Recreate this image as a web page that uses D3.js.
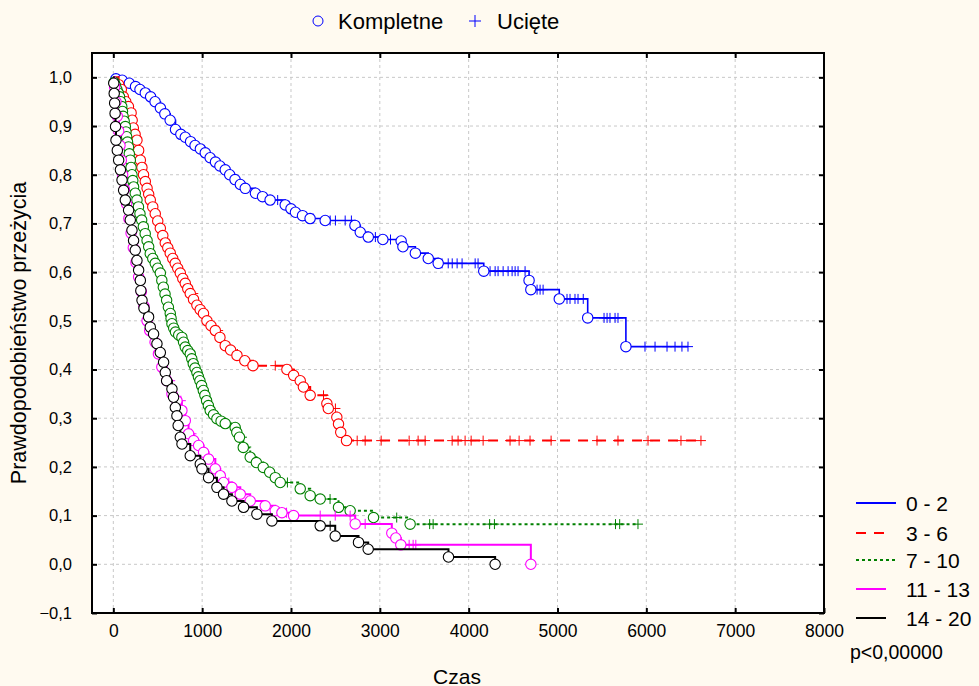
<!DOCTYPE html>
<html>
<head>
<meta charset="utf-8">
<script src="https://cdn.jsdelivr.net/npm/d3@7"></script>
<style>
  html, body { margin: 0; padding: 0; background: #FFFAF0; }
  svg { display: block; font-family: "Liberation Sans", Arial, sans-serif; }
</style>
</head>
<body>
<svg id="chart" width="979" height="686"></svg>
<script>
// Axis ticks
const xTicks = [0, 1000, 2000, 3000, 4000, 5000, 6000, 7000, 8000];
const yTicks = [-0.1, 0.0, 0.1, 0.2, 0.3, 0.4, 0.5, 0.6, 0.7, 0.8, 0.9, 1.0];

// Groups
const groupLabels = ["0 - 2", "3 - 6", "7 - 10", "11 - 13", "14 - 20"];
const groupColors = ["#0000FF", "#FF0000", "#008000", "#FF00FF", "#000000"];
const groupDash = [null, "10,8", "3,3", null, null];
const groupWidth = [1.6, 2, 2, 2, 2];

// Group 0 - 2: event times, survival after each event, censored times
const evT02 = [30, 100, 180, 250, 300, 360, 420, 470, 530, 580, 640, 700, 760, 810, 870, 920, 980, 1035, 1090, 1150, 1200, 1260, 1310, 1370, 1430, 1485, 1600, 1680, 1765, 1935, 2000, 2050, 2130, 2215, 2385, 2720, 2780, 2870, 3034, 3240, 3260, 3400, 3545, 3657, 4170, 4680, 4700, 5020, 5340, 5770];
const evS02 = [0.997, 0.994, 0.988, 0.981, 0.975, 0.968, 0.96, 0.95, 0.937, 0.925, 0.912, 0.893, 0.883, 0.877, 0.868, 0.86, 0.853, 0.845, 0.835, 0.826, 0.818, 0.81, 0.80, 0.79, 0.78, 0.772, 0.762, 0.755, 0.748, 0.738, 0.73, 0.723, 0.716, 0.71, 0.706, 0.696, 0.682, 0.672, 0.667, 0.664, 0.652, 0.639, 0.628, 0.618, 0.602, 0.583, 0.564, 0.545, 0.506, 0.447];
const cens02 = [1850, 2250, 2441, 2500, 2610, 2680, 2950, 3120, 3700, 3770, 3815, 3870, 3926, 4073, 4106, 4241, 4298, 4331, 4388, 4444, 4489, 4523, 4556, 4635, 4770, 4804, 4838, 5107, 5141, 5197, 5231, 5290, 5524, 5558, 5591, 5648, 5681, 5985, 6098, 6233, 6323, 6401, 6469];

// Group 3 - 6
const evT36 = [60, 90, 113, 140, 170, 200, 212, 225, 245, 266, 285, 304, 322, 340, 360, 380, 398, 416, 444, 472, 500, 529, 557, 585, 613, 641, 669, 697, 725, 754, 782, 810, 838, 866, 903, 941, 978, 1015, 1054, 1100, 1148, 1200, 1260, 1320, 1392, 1480, 1572, 1954, 2030, 2104, 2140, 2216, 2404, 2420, 2516, 2535, 2560, 2625];
const evS36 = [0.985, 0.975, 0.96, 0.95, 0.94, 0.927, 0.912, 0.896, 0.883, 0.871, 0.85, 0.83, 0.815, 0.80, 0.786, 0.772, 0.76, 0.748, 0.734, 0.72, 0.705, 0.69, 0.675, 0.66, 0.65, 0.639, 0.628, 0.618, 0.608, 0.598, 0.587, 0.577, 0.566, 0.556, 0.544, 0.532, 0.523, 0.515, 0.50, 0.49, 0.48, 0.466, 0.449, 0.44, 0.429, 0.418, 0.408, 0.40, 0.388, 0.377, 0.364, 0.347, 0.33, 0.32, 0.302, 0.288, 0.271, 0.254];
const cens36 = [620, 900, 1180, 1504, 1823, 1990, 2366, 2500, 2745, 2835, 3015, 3330, 3431, 3510, 3814, 3881, 3960, 4028, 4163, 4466, 4568, 4691, 4928, 5445, 5681, 6019, 6390, 6615];

// Group 7 - 10
const evT710 = [10, 25, 40, 55, 70, 82, 95, 103, 110, 122, 135, 142, 150, 160, 170, 180, 191, 200, 210, 219, 228, 247, 266, 283, 300, 319, 338, 359, 380, 398, 416, 444, 472, 500, 529, 546, 563, 582, 600, 620, 641, 650, 660, 680, 700, 736, 772, 791, 810, 838, 866, 883, 900, 920, 941, 958, 975, 994, 1013, 1031, 1050, 1070, 1091, 1128, 1166, 1213, 1260, 1372, 1390, 1420, 1463, 1541, 1610, 1688, 1760, 1823, 1879, 2104, 2216, 2329, 2535, 2666, 2929, 3341];
const evS710 = [0.99, 0.983, 0.975, 0.968, 0.96, 0.95, 0.94, 0.93, 0.92, 0.91, 0.899, 0.888, 0.878, 0.867, 0.857, 0.843, 0.83, 0.815, 0.80, 0.788, 0.775, 0.762, 0.748, 0.734, 0.72, 0.707, 0.693, 0.679, 0.665, 0.652, 0.638, 0.628, 0.618, 0.608, 0.598, 0.583, 0.569, 0.555, 0.542, 0.528, 0.515, 0.505, 0.494, 0.485, 0.477, 0.471, 0.466, 0.456, 0.446, 0.439, 0.432, 0.422, 0.412, 0.403, 0.394, 0.385, 0.377, 0.367, 0.357, 0.347, 0.336, 0.326, 0.316, 0.307, 0.299, 0.294, 0.289, 0.281, 0.271, 0.261, 0.24, 0.22, 0.209, 0.199, 0.189, 0.178, 0.168, 0.155, 0.141, 0.134, 0.117, 0.11, 0.096, 0.0825];
const cens710 = [450, 700, 950, 1200, 1448, 1960, 2440, 3190, 3561, 3600, 4236, 4290, 5653, 5700, 5906];

// Group 11 - 13
const evT1113 = [15, 30, 45, 60, 75, 90, 105, 125, 150, 175, 200, 225, 255, 285, 315, 345, 380, 410, 470, 508, 546, 602, 660, 716, 772, 810, 847, 904, 960, 1016, 1072, 1148, 1204, 1241, 1335, 1429, 1541, 1710, 1823, 1898, 2029, 2723, 3135, 3180, 3236, 4700];
const evS1113 = [0.98, 0.95, 0.92, 0.89, 0.86, 0.83, 0.80, 0.77, 0.74, 0.71, 0.68, 0.65, 0.62, 0.59, 0.56, 0.53, 0.50, 0.48, 0.456, 0.432, 0.405, 0.377, 0.35, 0.336, 0.316, 0.295, 0.268, 0.254, 0.244, 0.23, 0.216, 0.196, 0.182, 0.168, 0.158, 0.144, 0.13, 0.12, 0.11, 0.106, 0.10, 0.083, 0.064, 0.054, 0.04, 0.0];
const cens1113 = [420, 520, 640, 760, 880, 1100, 1300, 1950, 2329, 2498, 2666, 2835, 3330, 3375, 3405];

// Group 14 - 20
const evT1420 = [5, 10, 15, 20, 25, 30, 45, 60, 80, 98, 116, 135, 172, 191, 210, 228, 247, 266, 285, 304, 310, 323, 345, 397, 416, 453, 491, 529, 566, 585, 600, 660, 678, 698, 716, 730, 754, 773, 866, 979, 998, 1072, 1166, 1241, 1335, 1466, 1616, 1785, 2329, 2498, 2760, 2869, 3773, 4298];
const evS1420 = [0.988, 0.967, 0.947, 0.926, 0.899, 0.871, 0.85, 0.83, 0.81, 0.789, 0.768, 0.748, 0.727, 0.707, 0.686, 0.665, 0.645, 0.624, 0.604, 0.583, 0.562, 0.542, 0.526, 0.508, 0.487, 0.473, 0.453, 0.435, 0.415, 0.394, 0.377, 0.36, 0.343, 0.322, 0.305, 0.285, 0.261, 0.247, 0.223, 0.206, 0.196, 0.178, 0.158, 0.144, 0.13, 0.117, 0.103, 0.089, 0.079, 0.058, 0.045, 0.031, 0.015, 0.0];
const cens1420 = [2441];

const groups = [
  { t: evT02, s: evS02, c: cens02 },
  { t: evT36, s: evS36, c: cens36 },
  { t: evT710, s: evS710, c: cens710 },
  { t: evT1113, s: evS1113, c: cens1113 },
  { t: evT1420, s: evS1420, c: cens1420 }
];

const svg = d3.select("#chart");
const frame = { left: 92, right: 824, top: 53, bottom: 613 };

const x = d3.scaleLinear().domain([-240, 8000]).range([frame.left, frame.right]);
const y = d3.scaleLinear().domain([-0.1, 1.05]).range([frame.bottom, frame.top]);

const fmt = v => d3.format(".1f")(v).replace(".", ",");

// Plot area
svg.append("rect")
  .attr("x", frame.left).attr("y", frame.top)
  .attr("width", frame.right - frame.left).attr("height", frame.bottom - frame.top)
  .attr("fill", "#ffffff");

// Grid
const grid = svg.append("g").attr("stroke", "#c8c8c8").attr("stroke-width", 1).attr("stroke-dasharray", "3,3");
xTicks.filter(v => v < 8000).forEach(v => {
  grid.append("line").attr("x1", x(v)).attr("x2", x(v)).attr("y1", frame.top).attr("y2", frame.bottom);
});
yTicks.filter(v => v > -0.1).forEach(v => {
  grid.append("line").attr("x1", frame.left).attr("x2", frame.right).attr("y1", y(v)).attr("y2", y(v));
});

// Axes (ticks pointing inward on all four sides)
const tickLen = 5;
svg.append("g").attr("transform", `translate(0,${frame.bottom})`)
  .call(d3.axisBottom(x).tickValues(xTicks).tickSize(-tickLen).tickFormat(d3.format("d")).tickPadding(12))
  .call(g => g.select(".domain").remove())
  .call(g => g.selectAll("text").attr("font-size", 17.5).attr("fill", "#000"));
svg.append("g").attr("transform", `translate(0,${frame.top})`)
  .call(d3.axisTop(x).tickValues(xTicks.filter(v => v < 8000)).tickSize(-tickLen).tickFormat(""))
  .call(g => g.select(".domain").remove());
svg.append("g").attr("transform", `translate(${frame.left},0)`)
  .call(d3.axisLeft(y).tickValues(yTicks).tickSize(-tickLen).tickFormat(fmt).tickPadding(20))
  .call(g => g.select(".domain").remove())
  .call(g => g.selectAll("text").attr("font-size", 16.5).attr("fill", "#000"));
svg.append("g").attr("transform", `translate(${frame.right},0)`)
  .call(d3.axisRight(y).tickValues(yTicks).tickSize(-tickLen).tickFormat(""))
  .call(g => g.select(".domain").remove());
svg.selectAll(".tick line").attr("stroke", "#000").attr("stroke-width", 2);

// Kaplan-Meier step curves, drawn group by group
const clipId = "plotclip";
svg.append("clipPath").attr("id", clipId).append("rect")
  .attr("x", frame.left).attr("y", frame.top)
  .attr("width", frame.right - frame.left).attr("height", frame.bottom - frame.top);

const plot = svg.append("g").attr("clip-path", `url(#${clipId})`);

function survAt(g, t) {
  let s = 1;
  for (let i = 0; i < g.t.length; i++) { if (g.t[i] <= t) s = g.s[i]; }
  return s;
}

groups.forEach((g, gi) => {
  const col = groupColors[gi];
  const tEnd = Math.max(d3.max(g.t), d3.max(g.c) || 0);
  const pts = [[0, 1]];
  g.t.forEach((t, i) => {
    pts.push([t, pts[pts.length - 1][1]]);
    pts.push([t, g.s[i]]);
  });
  pts.push([tEnd, g.s[g.s.length - 1]]);
  const line = d3.line().x(d => x(d[0])).y(d => y(d[1]));
  const gg = plot.append("g");
  gg.append("path").attr("d", line(pts))
    .attr("fill", "none").attr("stroke", col).attr("stroke-width", groupWidth[gi])
    .attr("stroke-dasharray", groupDash[gi]);
  // censored observations
  gg.selectAll("path.cens").data(g.c).join("path").attr("class", "cens")
    .attr("d", t => {
      const cx = x(t), cy = y(survAt(g, t));
      return `M${cx - 5},${cy}H${cx + 5}M${cx},${cy - 5}V${cy + 5}`;
    })
    .attr("stroke", col).attr("stroke-width", 1).attr("fill", "none");
  // complete observations
  gg.selectAll("circle").data(g.t.map((t, i) => [t, g.s[i]])).join("circle")
    .attr("cx", d => x(d[0])).attr("cy", d => y(d[1])).attr("r", 5.2)
    .attr("fill", "#ffffff").attr("stroke", col).attr("stroke-width", 1.1);
});

// Frame
svg.append("rect")
  .attr("x", frame.left).attr("y", frame.top)
  .attr("width", frame.right - frame.left).attr("height", frame.bottom - frame.top)
  .attr("fill", "none").attr("stroke", "#000").attr("stroke-width", 2);

// Axis titles
svg.append("text").attr("x", 457).attr("y", 676).attr("text-anchor", "middle")
  .attr("dominant-baseline", "central").attr("font-size", 21).text("Czas");
svg.append("text").attr("transform", "translate(19,333) rotate(-90)").attr("text-anchor", "middle")
  .attr("dominant-baseline", "central").attr("font-size", 21.5).text("Prawdopodobieństwo przeżycia");

// Marker legend
const markerLegend = svg.append("g");
markerLegend.append("circle").attr("cx", 318).attr("cy", 21).attr("r", 5)
  .attr("fill", "none").attr("stroke", "#0000FF").attr("stroke-width", 1);
markerLegend.append("text").attr("x", 338).attr("y", 21).attr("dominant-baseline", "central")
  .attr("font-size", 22).text("Kompletne");
markerLegend.append("path").attr("d", "M469,21H481M475,15V27").attr("stroke", "#0000FF").attr("stroke-width", 1);
markerLegend.append("text").attr("x", 497).attr("y", 21).attr("dominant-baseline", "central")
  .attr("font-size", 22).text("Ucięte");

// Group legend
const legY = [503, 533, 560, 589, 618];
const legLen = [40, 30, 40, 30, 30];
const leg = svg.append("g");
groupLabels.forEach((lab, i) => {
  leg.append("line").attr("x1", 856).attr("x2", 856 + legLen[i])
    .attr("y1", legY[i]).attr("y2", legY[i])
    .attr("stroke", groupColors[i]).attr("stroke-width", 2)
    .attr("stroke-dasharray", groupDash[i]);
  leg.append("text").attr("x", 906).attr("y", legY[i]).attr("dominant-baseline", "central")
    .attr("font-size", 21).text(lab);
});
svg.append("text").attr("x", 850).attr("y", 652).attr("dominant-baseline", "central")
  .attr("font-size", 19.5).text("p<0,00000");
</script>
</body>
</html>
